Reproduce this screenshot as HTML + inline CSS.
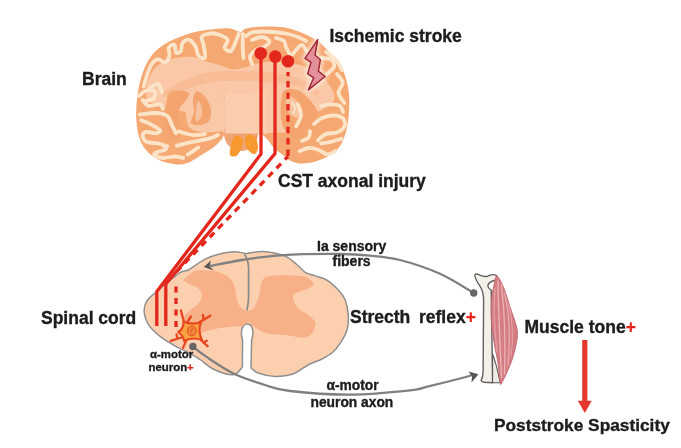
<!DOCTYPE html>
<html><head><meta charset="utf-8">
<style>
html,body{margin:0;padding:0;background:#fff;}
body{width:681px;height:448px;overflow:hidden;position:relative;}
svg{position:absolute;left:0;top:0;filter:blur(0.45px);}
.t{font-family:"Liberation Sans",sans-serif;font-weight:bold;fill:#1c1c1c;stroke:#1c1c1c;stroke-width:0.35px;}
</style></head><body>
<svg width="681" height="448" viewBox="0 0 681 448">
<rect width="681" height="448" fill="#fff"/>
<g id="brain">
<path d="M240.5,32.0 C243.2,32.0 242.1,29.4 246.0,28.5 C249.9,27.6 257.5,26.7 264.0,26.5 C270.5,26.3 278.8,26.5 285.0,27.5 C291.2,28.5 295.5,30.2 301.0,32.5 C306.5,34.8 313.3,37.8 318.0,41.0 C322.7,44.2 325.7,48.7 329.0,52.0 C332.3,55.3 335.4,57.3 338.0,61.0 C340.6,64.7 342.8,69.2 344.5,74.0 C346.2,78.8 347.7,85.0 348.5,90.0 C349.3,95.0 349.3,99.3 349.3,104.0 C349.3,108.7 349.1,113.3 348.5,118.0 C347.9,122.7 347.4,127.3 346.0,132.0 C344.6,136.7 342.7,142.2 340.0,146.0 C337.3,149.8 333.8,152.5 330.0,155.0 C326.2,157.5 321.5,159.6 317.0,161.0 C312.5,162.4 307.2,163.4 303.0,163.5 C298.8,163.6 295.3,162.9 292.0,161.5 C288.7,160.1 286.0,157.2 283.0,155.0 C280.0,152.8 276.8,150.8 274.0,148.0 C271.2,145.2 268.7,140.3 266.0,138.0 C263.3,135.7 264.3,134.8 258.0,134.0 C251.7,133.2 234.0,132.2 228.0,133.0 C222.0,133.8 224.3,136.7 222.0,139.0 C219.7,141.3 217.2,144.5 214.0,147.0 C210.8,149.5 207.0,151.5 203.0,154.0 C199.0,156.5 193.8,160.2 190.0,162.0 C186.2,163.8 183.7,164.3 180.0,164.5 C176.3,164.7 171.8,163.9 168.0,163.0 C164.2,162.1 160.5,161.0 157.0,159.0 C153.5,157.0 149.8,154.0 147.0,151.0 C144.2,148.0 142.2,145.0 140.5,141.0 C138.8,137.0 137.7,131.8 137.0,127.0 C136.3,122.2 136.1,117.3 136.2,112.0 C136.3,106.7 136.8,100.3 137.5,95.0 C138.2,89.7 139.2,84.7 140.5,80.0 C141.8,75.3 143.1,71.2 145.0,67.0 C146.9,62.8 149.2,58.5 152.0,55.0 C154.8,51.5 158.0,48.8 162.0,46.0 C166.0,43.2 170.5,40.8 176.0,38.5 C181.5,36.2 188.5,33.6 195.0,32.0 C201.5,30.4 209.2,29.6 215.0,29.0 C220.8,28.4 225.8,28.0 230.0,28.5 C234.2,29.0 237.8,32.0 240.5,32.0 Z" fill="#F5A872"/>
<path d="M146.0,92.0 C145.8,88.0 147.3,82.2 149.0,78.0 C150.7,73.8 153.2,69.8 156.0,67.0 C158.8,64.2 162.7,62.5 166.0,61.0 C169.3,59.5 171.9,58.8 176.0,58.0 C180.1,57.2 186.5,56.3 190.5,56.5 C194.5,56.7 197.0,58.1 200.0,59.0 C203.0,59.9 205.0,61.0 208.3,62.0 C211.6,63.0 215.8,63.8 219.6,65.0 C223.4,66.2 227.1,68.5 231.0,69.0 C234.9,69.5 239.0,68.8 243.0,68.0 C247.0,67.2 250.5,65.0 255.0,64.0 C259.5,63.0 263.2,62.0 270.0,62.0 C276.8,62.0 288.3,62.3 296.0,64.0 C303.7,65.7 310.3,68.3 316.0,72.0 C321.7,75.7 327.0,81.3 330.0,86.0 C333.0,90.7 335.3,96.0 334.0,100.0 C332.7,104.0 326.0,107.7 322.0,110.0 C318.0,112.3 313.7,110.7 310.0,114.0 C306.3,117.3 306.7,126.8 300.0,130.0 C293.3,133.2 278.3,132.3 270.0,133.0 C261.7,133.7 257.5,134.2 250.0,134.0 C242.5,133.8 231.0,133.0 225.0,132.0 C219.0,131.0 218.8,130.7 214.0,128.0 C209.2,125.3 203.3,119.3 196.0,116.0 C188.7,112.7 177.7,110.3 170.0,108.0 C162.3,105.7 154.0,104.7 150.0,102.0 C146.0,99.3 146.2,96.0 146.0,92.0 Z" fill="#FAC8A6"/>
<path d="M164.0,92.0 C166.5,89.2 177.3,83.3 185.0,80.0 C192.7,76.7 200.8,73.5 210.0,72.0 C219.2,70.5 230.0,71.0 240.0,71.0 C250.0,71.0 260.3,70.8 270.0,72.0 C279.7,73.2 290.0,75.0 298.0,78.0 C306.0,81.0 315.3,87.2 318.0,90.0 C320.7,92.8 317.7,95.7 314.0,95.0 C310.3,94.3 303.7,88.2 296.0,86.0 C288.3,83.8 277.3,82.8 268.0,82.0 C258.7,81.2 249.0,81.0 240.0,81.0 C231.0,81.0 222.3,80.8 214.0,82.0 C205.7,83.2 197.3,85.5 190.0,88.0 C182.7,90.5 174.3,96.3 170.0,97.0 C165.7,97.7 161.5,94.8 164.0,92.0 Z" fill="#F8BC96"/>
<path d="M224,94 L266,92 L267,134 L225,134 Z" fill="#FACDAE"/>
<path d="M224,94 L225,134" stroke="#F3B08A" stroke-width="1.2" fill="none"/>
<path d="M188.0,99.0 C190.3,95.0 195.3,91.2 200.0,90.0 C204.7,88.8 211.8,90.3 216.0,92.0 C220.2,93.7 223.5,94.0 225.0,100.0 C226.5,106.0 228.3,122.7 225.0,128.0 C221.7,133.3 210.8,132.0 205.0,132.0 C199.2,132.0 193.2,131.0 190.0,128.0 C186.8,125.0 186.3,118.8 186.0,114.0 C185.7,109.2 185.7,103.0 188.0,99.0 Z" fill="#F9C8A6"/>
<path d="M169.0,93.0 C171.3,90.1 176.7,90.5 180.0,90.5 C183.3,90.5 188.0,91.4 189.0,93.0 C190.0,94.6 187.5,97.5 186.0,100.0 C184.5,102.5 181.3,104.7 180.0,108.0 C178.7,111.3 177.3,116.0 178.0,120.0 C178.7,124.0 185.0,129.0 184.0,132.0 C183.0,135.0 175.2,139.0 172.0,138.0 C168.8,137.0 166.0,131.0 165.0,126.0 C164.0,121.0 165.3,113.5 166.0,108.0 C166.7,102.5 166.7,95.9 169.0,93.0 Z" fill="#F4A46F"/>
<path d="M197.0,91.0 C199.2,90.7 203.7,94.8 206.0,98.0 C208.3,101.2 210.5,106.2 211.0,110.0 C211.5,113.8 210.8,118.5 209.0,121.0 C207.2,123.5 203.0,124.7 200.0,125.0 C197.0,125.3 192.0,125.2 191.0,123.0 C190.0,120.8 193.7,115.8 194.0,112.0 C194.3,108.2 192.5,103.5 193.0,100.0 C193.5,96.5 194.8,91.3 197.0,91.0 Z" fill="#F4A46F"/>
<path d="M198.0,101.0 C199.0,100.8 201.5,106.2 202.0,109.0 C202.5,111.8 202.0,116.0 201.0,118.0 C200.0,120.0 196.8,122.3 196.0,121.0 C195.2,119.7 195.7,113.3 196.0,110.0 C196.3,106.7 197.0,101.2 198.0,101.0 Z" fill="#F9C3A0"/>
<path d="M283.0,92.0 C285.7,87.3 292.5,88.7 297.0,90.0 C301.5,91.3 306.5,96.0 310.0,100.0 C313.5,104.0 317.3,109.3 318.0,114.0 C318.7,118.7 316.7,124.0 314.0,128.0 C311.3,132.0 306.3,137.0 302.0,138.0 C297.7,139.0 291.5,137.3 288.0,134.0 C284.5,130.7 281.8,125.0 281.0,118.0 C280.2,111.0 280.3,96.7 283.0,92.0 Z" fill="#F4A46F"/>
<path d="M288.0,96.0 C289.7,95.3 293.7,97.7 296.0,100.0 C298.3,102.3 301.7,107.0 302.0,110.0 C302.3,113.0 300.0,117.3 298.0,118.0 C296.0,118.7 292.0,116.3 290.0,114.0 C288.0,111.7 286.3,107.0 286.0,104.0 C285.7,101.0 286.3,96.7 288.0,96.0 Z" fill="#F9C3A0"/>
<path d="M292.0,102.0 C292.5,103.0 294.8,106.0 295.0,108.0 C295.2,110.0 293.3,113.0 293.0,114.0" fill="none" stroke="#FCE4C8" stroke-width="2"/>
<path d="M143.7,86.6 C144.2,84.7 145.6,79.1 146.9,75.3 C148.2,71.5 149.9,66.7 151.8,64.0 C153.7,61.3 156.0,59.5 158.2,59.2 C160.3,58.9 162.8,63.0 164.7,62.4 C166.6,61.8 168.8,58.3 169.5,55.9 C170.2,53.5 167.9,49.7 168.7,47.8 C169.5,45.9 173.2,43.8 174.4,44.6 C175.6,45.4 174.9,51.6 176.0,52.7 C177.1,53.8 179.7,52.6 180.8,51.0 C181.9,49.4 181.2,44.9 182.5,43.0 C183.8,41.1 186.8,39.3 188.9,39.8 C191.1,40.3 193.8,43.5 195.4,46.2 C197.0,48.9 197.0,54.0 198.6,55.9 C200.2,57.8 204.2,59.4 205.0,57.5 C205.8,55.6 204.0,48.1 203.5,44.6 C203.0,41.1 200.6,38.4 201.9,36.5 C203.2,34.6 208.6,33.6 211.5,33.3 C214.4,33.0 216.9,33.8 219.6,34.9 C222.3,36.0 226.9,37.6 227.7,39.8 C228.5,41.9 224.0,45.9 224.5,47.8 C225.0,49.7 229.0,52.1 230.9,51.0 C232.8,49.9 234.5,44.4 235.8,41.4 C237.2,38.4 238.5,34.6 239.0,33.3" fill="none" stroke="#FCE4C8" stroke-width="3.8" stroke-linecap="round" stroke-linejoin="round"/>
<path d="M246.0,36.0 C247.0,35.4 249.3,33.2 252.0,32.5 C254.7,31.8 258.3,31.6 262.0,31.5 C265.7,31.4 270.0,31.7 274.0,32.0 C278.0,32.3 282.0,32.7 286.0,33.5 C290.0,34.3 294.7,35.8 298.0,37.0 C301.3,38.2 304.7,40.3 306.0,41.0" fill="none" stroke="#FCE4C8" stroke-width="3.8" stroke-linecap="round" stroke-linejoin="round"/>
<path d="M252.0,40.0 C253.7,39.5 259.1,36.8 262.0,37.0 C264.9,37.2 269.2,39.7 269.5,41.4 C269.8,43.1 266.2,45.6 264.0,47.0 C261.8,48.4 258.3,48.5 256.0,50.0 C253.7,51.5 250.7,53.7 250.0,56.0 C249.3,58.3 251.7,62.7 252.0,64.0" fill="none" stroke="#FCE4C8" stroke-width="3.8" stroke-linecap="round" stroke-linejoin="round"/>
<path d="M276.0,38.0 C277.3,38.5 282.3,39.5 284.0,41.0 C285.7,42.5 284.8,44.7 286.0,47.0 C287.2,49.3 289.3,54.5 291.0,55.0 C292.7,55.5 294.2,51.7 296.0,50.0 C297.8,48.3 300.2,44.7 302.0,45.0 C303.8,45.3 306.2,50.8 307.0,52.0" fill="none" stroke="#FCE4C8" stroke-width="3.8" stroke-linecap="round" stroke-linejoin="round"/>
<path d="M243.0,34.0 C242.9,36.0 242.6,42.0 242.7,46.0 C242.8,50.0 243.4,56.0 243.5,58.0" fill="none" stroke="#FCE4C8" stroke-width="3.8" stroke-linecap="round" stroke-linejoin="round"/>
<path d="M321.0,58.0 C322.7,58.2 329.0,58.0 331.2,59.5 C333.4,61.0 334.7,64.3 334.0,66.7 C333.3,69.1 328.1,72.8 326.9,74.0" fill="none" stroke="#FCE4C8" stroke-width="3.8" stroke-linecap="round" stroke-linejoin="round"/>
<path d="M337.0,74.0 C338.0,75.5 342.6,79.6 342.8,82.7 C343.1,85.8 338.2,89.4 338.5,92.8 C338.8,96.2 343.3,101.3 344.3,103.0" fill="none" stroke="#FCE4C8" stroke-width="3.8" stroke-linecap="round" stroke-linejoin="round"/>
<path d="M326.0,52.0 C327.7,53.3 333.3,57.0 336.0,60.0 C338.7,63.0 341.0,68.3 342.0,70.0" fill="none" stroke="#FCE4C8" stroke-width="3.8" stroke-linecap="round" stroke-linejoin="round"/>
<path d="M321.2,106.0 C322.8,105.7 327.5,104.4 330.6,104.4 C333.7,104.4 337.9,104.7 340.0,106.0 C342.1,107.3 342.5,111.0 343.0,112.0" fill="none" stroke="#FCE4C8" stroke-width="3.8" stroke-linecap="round" stroke-linejoin="round"/>
<path d="M314.0,124.0 C315.2,123.1 318.0,119.9 321.2,118.4 C324.5,117.0 330.1,115.3 333.8,115.3 C337.4,115.3 341.2,116.6 343.0,118.4 C344.8,120.2 345.7,123.9 344.7,126.2 C343.7,128.6 340.0,131.2 336.9,132.5 C333.8,133.8 329.1,132.7 326.0,134.0 C322.9,135.3 319.3,139.2 318.0,140.3" fill="none" stroke="#FCE4C8" stroke-width="3.8" stroke-linecap="round" stroke-linejoin="round"/>
<path d="M321.2,143.4 C322.8,143.2 327.2,142.7 330.6,141.9 C334.0,141.1 339.8,139.3 341.6,138.8" fill="none" stroke="#FCE4C8" stroke-width="3.8" stroke-linecap="round" stroke-linejoin="round"/>
<path d="M299.4,151.2 C301.0,150.7 305.6,148.3 308.8,148.0 C311.9,147.7 314.9,148.6 318.0,149.7 C321.1,150.8 324.6,154.1 327.5,154.4 C330.4,154.7 334.0,151.8 335.3,151.2" fill="none" stroke="#FCE4C8" stroke-width="3.8" stroke-linecap="round" stroke-linejoin="round"/>
<path d="M297.8,104.4 C298.3,106.2 301.3,111.7 301.0,115.3 C300.7,118.9 297.0,124.4 296.2,126.2" fill="none" stroke="#FCE4C8" stroke-width="3.8" stroke-linecap="round" stroke-linejoin="round"/>
<path d="M310.0,131.0 C309.8,132.0 310.1,135.5 308.8,137.2 C307.4,138.9 303.1,140.4 302.0,141.0" fill="none" stroke="#FCE4C8" stroke-width="3.8" stroke-linecap="round" stroke-linejoin="round"/>
<path d="M139.0,96.0 C140.2,95.1 143.3,91.2 146.0,90.5 C148.7,89.8 153.8,90.6 155.0,92.0 C156.2,93.4 154.8,97.5 153.0,99.0 C151.2,100.5 145.5,100.7 144.0,101.0" fill="none" stroke="#FCE4C8" stroke-width="3.8" stroke-linecap="round" stroke-linejoin="round"/>
<path d="M142.7,100.0 C143.7,101.0 145.6,105.1 148.5,105.8 C151.4,106.5 157.6,103.8 160.0,104.3 C162.4,104.8 162.5,108.0 163.0,108.7" fill="none" stroke="#FCE4C8" stroke-width="3.8" stroke-linecap="round" stroke-linejoin="round"/>
<path d="M139.8,114.5 C142.5,114.2 151.1,112.8 155.7,113.0 C160.3,113.2 164.6,114.1 167.3,116.0 C170.0,117.9 170.2,121.7 171.7,124.6 C173.1,127.5 175.3,131.9 176.0,133.3" fill="none" stroke="#FCE4C8" stroke-width="3.8" stroke-linecap="round" stroke-linejoin="round"/>
<path d="M141.2,120.3 C142.9,121.0 148.2,122.9 151.4,124.6 C154.6,126.3 159.4,128.9 160.1,130.4 C160.8,131.9 158.1,133.1 155.7,133.3 C153.3,133.6 147.8,131.4 145.6,131.9 C143.4,132.4 142.5,134.5 142.7,136.2 C142.9,137.9 144.3,140.8 147.0,142.0 C149.7,143.2 155.2,142.8 158.6,143.5 C162.0,144.2 165.9,145.9 167.3,146.4" fill="none" stroke="#FCE4C8" stroke-width="3.8" stroke-linecap="round" stroke-linejoin="round"/>
<path d="M163.0,145.0 C163.5,145.7 166.9,148.1 165.9,149.3 C164.9,150.5 159.1,151.2 157.2,152.2 C155.3,153.1 153.3,154.0 154.3,155.0 C155.3,156.0 159.6,157.8 163.0,158.0 C166.4,158.2 171.2,156.5 174.6,156.5 C178.0,156.5 181.9,157.8 183.3,158.0" fill="none" stroke="#FCE4C8" stroke-width="3.8" stroke-linecap="round" stroke-linejoin="round"/>
<path d="M176.9,145.7 C179.3,145.1 185.8,143.3 191.1,142.1 C196.4,140.9 204.5,139.8 209.0,138.6 C213.5,137.4 216.4,135.6 217.9,135.0" fill="none" stroke="#FCE4C8" stroke-width="3.8" stroke-linecap="round" stroke-linejoin="round"/>
<path d="M178.6,131.4 C181.0,132.0 188.5,134.6 192.9,135.0 C197.3,135.4 203.0,134.2 205.0,134.0" fill="none" stroke="#FCE4C8" stroke-width="3.8" stroke-linecap="round" stroke-linejoin="round"/>
<path d="M187.6,154.6 C189.4,153.4 196.5,148.7 198.3,147.5" fill="none" stroke="#FCE4C8" stroke-width="3.8" stroke-linecap="round" stroke-linejoin="round"/>
<path d="M150.0,88.0 C151.3,87.3 156.0,83.3 158.0,84.0 C160.0,84.7 161.3,90.7 162.0,92.0" fill="none" stroke="#FCE4C8" stroke-width="3.8" stroke-linecap="round" stroke-linejoin="round"/>
<path d="M224,133.5 L258,133.5 C258,143 251,151 241,151 C231,151 224,143 224,133.5 Z" fill="#EFA477"/>
<path d="M235.0,136.0 C237.0,134.8 242.0,136.8 243.0,139.0 C244.0,141.2 242.2,146.2 241.0,149.0 C239.8,151.8 237.8,155.0 236.0,156.0 C234.2,157.0 230.8,156.7 230.0,155.0 C229.2,153.3 230.2,149.2 231.0,146.0 C231.8,142.8 233.0,137.2 235.0,136.0 Z" fill="#F7992F"/>
<path d="M247.0,135.0 C248.7,134.0 253.2,135.0 255.0,137.0 C256.8,139.0 258.0,144.2 258.0,147.0 C258.0,149.8 256.5,153.3 255.0,154.0 C253.5,154.7 250.7,152.8 249.0,151.0 C247.3,149.2 245.3,145.7 245.0,143.0 C244.7,140.3 245.3,136.0 247.0,135.0 Z" fill="#F7992F"/>
</g>
<!-- Spinal cord -->
<g id="cord">
<path d="M247.0,253.5 C248.9,253.2 254.8,251.9 258.6,251.7 C262.4,251.5 265.6,251.6 270.0,252.3 C274.4,253.0 280.5,253.9 285.0,255.9 C289.5,257.9 293.4,261.8 296.8,264.5 C300.2,267.2 302.1,270.4 305.2,272.3 C308.3,274.2 311.6,274.6 315.2,275.9 C318.8,277.2 323.0,277.7 326.9,280.1 C330.8,282.5 335.5,286.9 338.6,290.2 C341.7,293.5 343.7,296.1 345.3,300.2 C346.9,304.3 348.0,310.0 348.3,315.0 C348.6,320.0 348.3,325.4 347.0,330.0 C345.7,334.6 342.7,339.2 340.4,342.9 C338.1,346.6 336.1,349.3 333.0,352.0 C329.9,354.7 326.2,356.8 322.0,359.0 C317.8,361.2 312.8,362.5 308.0,365.0 C303.2,367.5 298.5,372.1 293.0,374.0 C287.5,375.9 281.0,376.6 275.2,376.4 C269.4,376.2 262.0,374.4 258.0,373.0 C254.0,371.6 252.2,368.8 251.0,368.0 L251.6,340 C254.2,333 253,324 247.2,324 C241.5,324 240.2,333 242.6,340 L242.4,367 L242.4,367.0 C240.9,368.3 238.0,374.4 233.3,374.8 C228.6,375.2 219.8,372.1 214.2,369.5 C208.6,366.9 203.9,362.1 200.0,359.5 C196.1,356.9 194.8,356.0 190.7,353.8 C186.6,351.6 180.6,349.1 175.5,346.2 C170.4,343.3 164.8,340.2 160.4,336.7 C156.0,333.2 151.7,329.5 149.0,325.4 C146.3,321.3 144.6,316.0 144.2,312.0 C143.8,308.0 144.9,304.3 146.7,301.2 C148.4,298.1 151.1,296.4 154.7,293.2 C158.2,290.0 163.8,285.4 168.0,282.0 C172.2,278.6 176.6,274.6 180.0,272.6 C183.4,270.6 186.2,271.0 188.4,270.0 C190.6,269.0 190.6,268.5 193.4,266.7 C196.2,264.9 200.9,261.3 205.1,259.2 C209.3,257.1 213.8,255.4 218.5,254.2 C223.2,252.9 229.1,251.8 233.5,251.7 C237.9,251.6 242.9,253.1 245.2,253.4 C247.4,253.7 246.7,253.5 247.0,253.5 Z" fill="#FCCFAF" stroke="#8f8f8f" stroke-width="1.5"/>
<path d="M185.0,278.4 C186.9,276.5 191.4,271.6 196.7,270.5 C202.0,269.4 211.2,270.5 216.8,271.8 C222.4,273.1 227.1,275.6 230.2,278.4 C233.3,281.2 234.1,284.9 235.2,288.5 C236.3,292.1 235.8,296.9 236.9,300.2 C238.0,303.5 240.1,306.8 241.9,308.5 C243.8,310.2 246.0,310.6 248.0,310.5 C250.0,310.4 252.2,310.3 254.0,308.0 C255.8,305.7 257.3,301.2 258.6,296.8 C259.9,292.4 260.1,285.3 262.0,281.8 C263.9,278.3 263.4,277.0 270.0,276.0 C276.6,275.0 294.6,274.8 301.8,276.0 C309.1,277.2 312.4,281.4 313.5,283.5 C314.6,285.6 311.6,286.8 308.5,288.5 C305.4,290.2 297.6,291.6 295.1,293.5 C292.6,295.4 292.8,297.7 293.4,300.2 C294.0,302.7 296.0,306.0 298.5,308.5 C301.0,311.0 305.7,312.8 308.5,315.2 C311.3,317.6 314.9,320.0 315.5,323.0 C316.1,326.0 313.9,330.6 312.0,333.0 C310.1,335.4 308.5,337.3 304.0,337.6 C299.5,337.9 291.3,335.7 285.0,335.0 C278.7,334.3 271.7,334.7 266.4,333.2 C261.1,331.7 256.1,327.9 253.0,326.0 C249.9,324.1 249.8,322.0 248.0,322.0 C246.2,322.0 245.3,325.2 242.0,326.0 C238.7,326.8 233.3,326.3 228.0,327.0 C222.7,327.7 215.3,328.8 210.0,330.0 C204.7,331.2 200.0,334.0 196.0,334.0 C192.0,334.0 188.0,332.7 186.0,330.0 C184.0,327.3 183.3,321.3 184.0,318.0 C184.7,314.7 187.6,312.6 190.0,310.2 C192.4,307.8 196.4,306.0 198.4,303.5 C200.4,301.0 201.8,297.7 201.8,295.2 C201.8,292.7 201.2,290.7 198.4,288.5 C195.6,286.3 187.2,283.5 185.0,281.8 C182.8,280.1 183.1,280.3 185.0,278.4 Z" fill="#F8B088"/>
<path d="M244.4,254.2 C247,258 248.6,262 248.6,268 L248.6,297 C248.6,302 247.5,307 246.9,310.5" fill="none" stroke="#8a8a8a" stroke-width="1.7"/>
</g>
<!-- loops -->
<g fill="none" stroke="#808080" stroke-width="2.3">
<path d="M473.7,293.0 C468.1,289.8 452.3,279.3 440.0,273.8 C427.7,268.3 411.7,263.0 400.0,260.0 C388.3,257.0 380.0,256.6 370.0,255.6 C360.0,254.6 355.0,254.1 340.0,254.0 C325.0,253.9 296.3,254.3 280.0,255.3 C263.7,256.3 253.7,258.2 242.0,260.0 C230.3,261.8 215.3,265.0 210.0,266.0"/>
<path d="M192.9,346.5 C195.3,348.4 200.8,353.1 207.6,357.6 C214.4,362.2 224.7,369.3 234.0,373.8 C243.3,378.3 254.1,381.6 263.4,384.5 C272.7,387.4 275.6,389.3 290.0,391.0 C304.4,392.7 330.0,394.7 350.0,394.6 C370.0,394.5 396.9,391.7 410.0,390.3 C423.1,388.9 419.5,388.4 428.5,386.3 C437.5,384.2 456.8,379.4 464.0,377.5 C471.2,375.6 470.7,375.4 472.0,375.0"/>
</g>
<path d="M203.8,267 L211,260.5 L209.5,266.3 L213.8,270.5 Z" fill="#555"/>
<path d="M478.5,374.2 L468.6,371.5 L472,376.5 L471.5,382.5 Z" fill="#555"/>
<circle cx="192.9" cy="346.5" r="3.7" fill="#666"/>
<circle cx="473.7" cy="293" r="3.7" fill="#666"/>

<!-- neuron -->
<g id="neuron" stroke="#E8461E" stroke-width="2.3" fill="none" stroke-linecap="round" stroke-linejoin="round">
<path d="M184,322 L180.9,310.4"/>
<path d="M188,321 L191,316.5"/>
<path d="M200,322 L210.3,315.7 M203.5,319.5 L203,315"/>
<path d="M183,337 L170.7,340.9 M177.6,338.5 L176.5,334.5"/>
<path d="M182,330 L178.5,331.5"/>
<path d="M200,339 L207.7,346.3 M203.4,342.6 L206.8,340.8"/>
<path d="M186,341 L183,347.9"/>
</g>
<path d="M183.5,321.5 Q192,325.5 201,322 Q197.5,331 202,340 Q193,336.5 184,341 Q184,336.5 178.5,332.5 Q184,328 183.5,321.5 Z" fill="#F8A23F" stroke="#E8461E" stroke-width="2.1" stroke-linejoin="round"/>
<ellipse cx="191.8" cy="331" rx="4.3" ry="4.8" fill="#F3883A" stroke="#E5502A" stroke-width="1.1"/>
<path d="M193.5,328.8 C190.5,328.5 189.5,332.5 192.5,333.5" fill="none" stroke="#E5502A" stroke-width="0.9"/>

<!-- CST lines -->
<g fill="none" stroke="#E3271C" stroke-width="3.3">
<polyline points="261,53 261,154 156.8,291.5 156.8,326"/>
<polyline points="275,56 275,153.6 165.8,284 165.8,326"/>
<path d="M288,72 L288,156.4" stroke-dasharray="6.5,4.9" stroke-dashoffset="2.3"/>
<path d="M288,156.4 L176,272.2" stroke-dasharray="6.5,5.5" stroke-dashoffset="2"/>
<path d="M176,283 L176,327" stroke-dasharray="6,5.5" stroke-dashoffset="8"/>
</g>
<g fill="#E3271C">
<circle cx="260.7" cy="53.3" r="6.3"/>
<circle cx="275.3" cy="56.6" r="6.3"/>
<circle cx="288" cy="61.3" r="6.3"/>
</g>
<!-- Lightning -->
<defs><filter id="gl" x="-50%" y="-50%" width="200%" height="200%"><feGaussianBlur stdDeviation="2"/></filter></defs>
<path d="M317.7,39.7 L305,58.4 L311,62.4 L307.7,73.8 L313.7,77.8 L308.4,89.8 L325.1,76.5 L318.4,71.1 L320.4,59.7 L315,55 Z" fill="#FFF6EE" stroke="#FFF6EE" stroke-width="5" stroke-linejoin="round" filter="url(#gl)" opacity="0.85"/>
<path d="M317.7,39.7 L305,58.4 L311,62.4 L307.7,73.8 L313.7,77.8 L308.4,89.8 L325.1,76.5 L318.4,71.1 L320.4,59.7 L315,55 Z" fill="#E4909B" stroke="#A02835" stroke-width="1.5" stroke-linejoin="round"/>

<!-- bone & muscle -->
<path d="M474.9,276 C474.5,274 476,273.8 477.5,274.2 C480,275.5 483,276.5 485.5,276.5 C488,276.5 490,274.8 492.5,274.6 C494.5,274.5 496.5,275 497,276.5 L497,280 C494,280.5 489,282 488,285 C487.5,287.5 489.5,289 491.2,290 L492.6,382.7 L484.1,382.2 C482.5,382 481,381 481.1,380.2 C482.5,378 483.1,376 483.1,372 L483.6,300 C483.6,293 482,289 479.8,285.9 C477.5,282.5 475.5,279.5 474.9,276 Z" fill="#F3EFE9" stroke="#606060" stroke-width="1.4" stroke-linejoin="round"/>
<path d="M492.6,354 C495,360 498,372 500.2,382.7 L492.6,382.7 Z" fill="#EEEAE4" stroke="#5a5a5a" stroke-width="1.1" stroke-linejoin="round"/>
<path d="M497.0,276.0 C498.6,276.5 501.6,282.9 503.8,288.0 C505.9,293.1 507.9,300.6 510.0,306.9 C512.1,313.2 515.0,320.4 516.2,325.6 C517.5,330.8 517.7,332.8 517.2,338.0 C516.7,343.2 514.7,351.1 513.0,356.9 C511.3,362.6 508.6,368.4 506.9,372.5 C505.1,376.6 503.5,379.6 502.5,381.5 C501.5,383.4 501.4,384.1 501.0,384.2 C500.6,384.3 500.5,385.5 500.0,382.0 C499.5,378.5 498.9,369.2 498.0,363.0 C497.1,356.8 495.6,351.8 494.5,345.0 C493.4,338.2 492.0,329.9 491.5,322.5 C491.0,315.1 491.1,306.9 491.5,300.6 C491.9,294.4 493.1,289.1 494.0,285.0 C494.9,280.9 495.4,275.5 497.0,276.0 Z" fill="#D47E84" stroke="#C2666E" stroke-width="0.9"/>
<g fill="none" stroke-linecap="round">
<path d="M495,288 C493.5,305 494,325 497,352" stroke="#E4A0A5" stroke-width="1.2"/>
<path d="M498,281 C498,300 499.5,330 501.5,378" stroke="#ECB2B6" stroke-width="1.4"/>
<path d="M501.5,285 C503.5,302 506,330 504.5,374" stroke="#ECB2B6" stroke-width="1.3"/>
<path d="M504.5,293 C508.5,309 511,332 508,366" stroke="#EAADB1" stroke-width="1.2"/>
<path d="M508.5,304 C512.5,319 514,336 511,356" stroke="#E4A0A5" stroke-width="1.1"/>
</g>

<!-- texts -->
<text class="t" x="82" y="85" font-size="17.5">Brain</text>
<text class="t" x="329.5" y="42" font-size="17.5">Ischemic stroke</text>
<text class="t" x="278" y="187" font-size="17.5">CST axonal injury</text>
<text class="t" x="41" y="323.5" font-size="17.5">Spinal cord</text>
<text class="t" x="350" y="323" font-size="17.5">Strecth</text>
<text class="t" x="419" y="323" font-size="17.5">reflex<tspan fill="#E8241C" stroke="#E8241C" stroke-width="0.2">+</tspan></text>
<text class="t" x="524.5" y="332.5" font-size="17.5">Muscle tone<tspan fill="#E8241C" stroke="#E8241C" stroke-width="0.2">+</tspan></text>
<text class="t" x="494" y="431" font-size="17.3">Poststroke Spasticity</text>
<text class="t" x="317" y="250.5" font-size="14">Ia sensory</text>
<text class="t" x="332.5" y="266" font-size="14">fibers</text>
<text class="t" x="326.5" y="390" font-size="13.8">α-motor</text>
<text class="t" x="310.5" y="407" font-size="13.8">neuron axon</text>
<text class="t" x="150" y="357.5" font-size="11.4">α-motor</text>
<text class="t" x="148.5" y="371" font-size="11.4">neuron<tspan fill="#E8241C" stroke="#E8241C" stroke-width="0.2">+</tspan></text>
<!-- arrow -->
<rect x="582.2" y="340" width="5.2" height="62" fill="#E43A2E"/>
<path d="M577.8,400.8 L591.8,400.8 L584.8,413 Z" fill="#E43A2E"/>
</svg>
</body></html>
